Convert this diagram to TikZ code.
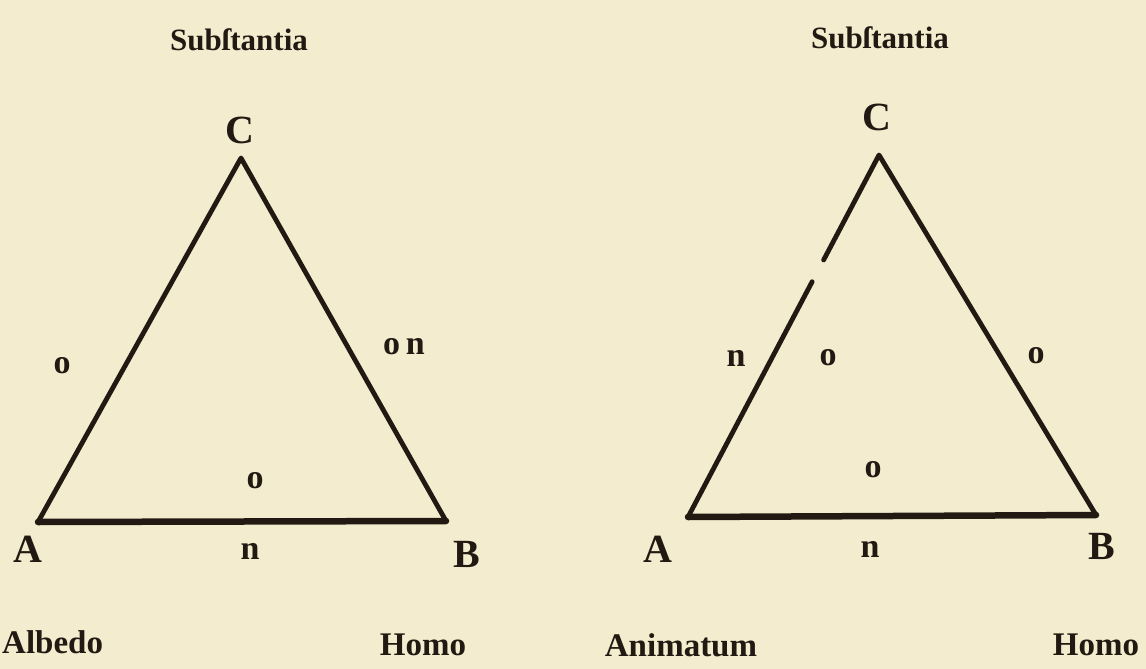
\documentclass[tikz,border=0pt]{standalone}
\usepackage{fontspec}
\setmainfont{Liberation Serif}
\usepackage{xcolor}
\definecolor{paper}{HTML}{F4ECCE}
\definecolor{ink}{HTML}{221A12}
\usetikzlibrary{calc}
\tikzset{
  side/.style={draw=ink,line width=4.8pt,line cap=round,line join=round},
  base/.style={draw=ink,line width=6.5pt,line cap=round},
  vlab/.style={text=ink,inner sep=0pt,font=\bfseries\fontsize{40}{40}\selectfont},
  word/.style={text=ink,inner sep=0pt,font=\bfseries\fontsize{33}{33}\selectfont},
  val/.style={text=ink,inner sep=0pt,font=\bfseries\fontsize{34}{34}\selectfont},
}

\begin{document}
\begin{tikzpicture}[x=1pt,y=-1pt]
\fill[paper] (0,0) rectangle (1146,669);
\useasboundingbox (0,0) rectangle (1146,669);
% left figure
\coordinate (A1) at (38,522);
\coordinate (B1) at (446,521);
\coordinate (C1) at (241,158);
\draw[side] (A1) -- (C1) -- (B1);
\draw[base] (A1) -- (B1);
\node[word,font=\bfseries\fontsize{31}{31}\selectfont] (subst1) at (239,40) {Subſtantia};
\node[vlab] (c1) at (240,130) {C};
\node[vlab] (a1) at (28,549) {A};
\node[vlab] (b1) at (467,554) {B};
\node[val] (o1) at (62,366) {o};
\node[val] (on1) at (404,347) {o\,n};
\node[val] (o2) at (255,481) {o};
\node[val] (n1) at (250,551) {n};
\node[word,anchor=west] (albedo) at (2,642) {Albedo};
\node[word] (homo1) at (423,645) {Homo};
% right figure
\coordinate (A2) at (688,517);
\coordinate (B2) at (1096,515);
\coordinate (C2) at (879,155);
\draw[side] ($(C2)!0.29!(A2)$) -- (C2) -- (B2);
\draw[side] ($(C2)!0.35!(A2)$) -- (A2);
\draw[base] (A2) -- (B2);
\node[word,font=\bfseries\fontsize{31}{31}\selectfont] (subst2) at (880,38) {Subſtantia};
\node[vlab] (c2) at (877,117) {C};
\node[vlab] (a2) at (658,549) {A};
\node[vlab] (b2) at (1102,546) {B};
\node[val] (n2) at (736,358) {n};
\node[val] (o3) at (828,358) {o};
\node[val] (o4) at (1036,356) {o};
\node[val] (o5) at (873,470) {o};
\node[val] (n3) at (870,549) {n};
\node[word] (anim) at (681,645) {Animatum};
\node[word] (homo2) at (1096,645) {Homo};
\end{tikzpicture}
\end{document}
